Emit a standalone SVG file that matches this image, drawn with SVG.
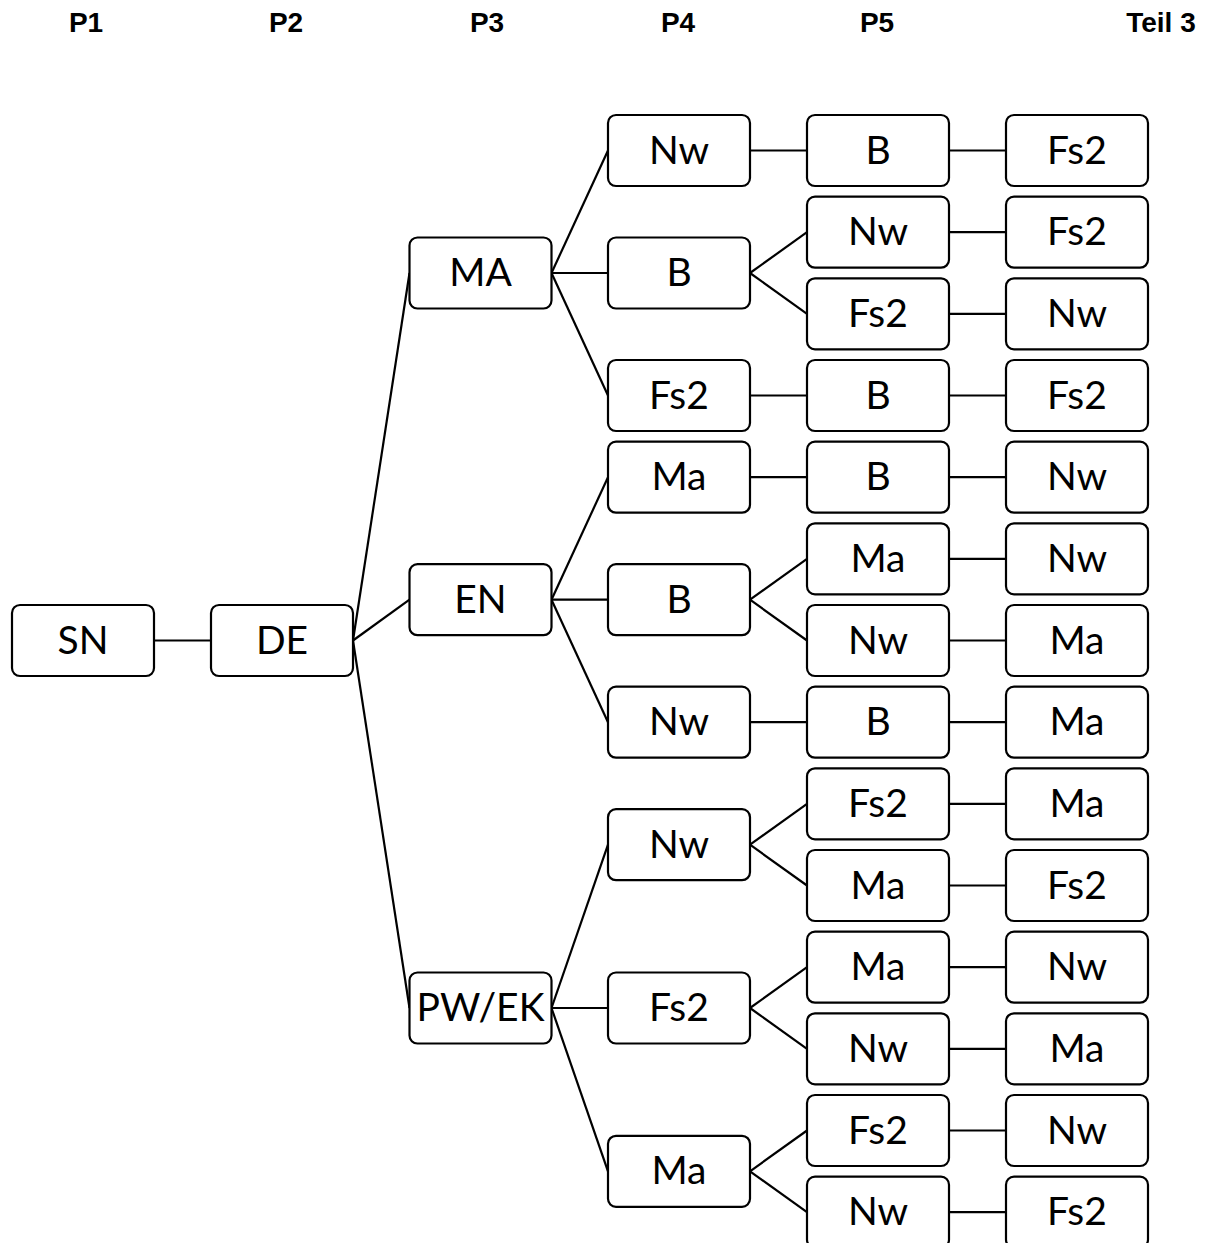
<svg xmlns="http://www.w3.org/2000/svg" width="1211" height="1243" viewBox="0 0 1211 1243">
<style>
.box{fill:#fff;stroke:#000;stroke-width:2.2}
.lbl{font-family:Lato,"Open Sans",sans-serif;font-size:39px;text-anchor:middle;fill:#000}
.hdr{font-family:"Liberation Sans",Arial,sans-serif;font-size:28px;font-weight:bold;text-anchor:middle;fill:#000}
.con line{stroke:#000;stroke-width:2.2}
</style>
<rect width="1211" height="1243" fill="#fff"/>
<g id="headers">
<text class="hdr" x="86" y="32">P1</text>
<text class="hdr" x="286" y="32">P2</text>
<text class="hdr" x="487" y="32">P3</text>
<text class="hdr" x="678" y="32">P4</text>
<text class="hdr" x="877" y="32">P5</text>
<text class="hdr" x="1161" y="32">Teil 3</text>
</g>
<g id="connectors" class="con">
<line x1="154" y1="640.5" x2="211" y2="640.5"/>
<line x1="353" y1="640.5" x2="409.5" y2="273"/>
<line x1="353" y1="640.5" x2="409.5" y2="599.7"/>
<line x1="353" y1="640.5" x2="409.5" y2="1008"/>
<line x1="551.5" y1="273" x2="608" y2="150.5"/>
<line x1="551.5" y1="273" x2="608" y2="273"/>
<line x1="551.5" y1="273" x2="608" y2="395.5"/>
<line x1="551.5" y1="599.7" x2="608" y2="477.2"/>
<line x1="551.5" y1="599.7" x2="608" y2="599.7"/>
<line x1="551.5" y1="599.7" x2="608" y2="722.2"/>
<line x1="551.5" y1="1008" x2="608" y2="844.7"/>
<line x1="551.5" y1="1008" x2="608" y2="1008"/>
<line x1="551.5" y1="1008" x2="608" y2="1171.3"/>
<line x1="750" y1="150.5" x2="807" y2="150.5"/>
<line x1="750" y1="273" x2="807" y2="232.2"/>
<line x1="750" y1="273" x2="807" y2="313.8"/>
<line x1="750" y1="395.5" x2="807" y2="395.5"/>
<line x1="750" y1="477.2" x2="807" y2="477.2"/>
<line x1="750" y1="599.7" x2="807" y2="558.8"/>
<line x1="750" y1="599.7" x2="807" y2="640.5"/>
<line x1="750" y1="722.2" x2="807" y2="722.2"/>
<line x1="750" y1="844.7" x2="807" y2="803.8"/>
<line x1="750" y1="844.7" x2="807" y2="885.5"/>
<line x1="750" y1="1008" x2="807" y2="967.2"/>
<line x1="750" y1="1008" x2="807" y2="1048.8"/>
<line x1="750" y1="1171.3" x2="807" y2="1130.5"/>
<line x1="750" y1="1171.3" x2="807" y2="1212.2"/>
<line x1="949" y1="150.5" x2="1006" y2="150.5"/>
<line x1="949" y1="232.2" x2="1006" y2="232.2"/>
<line x1="949" y1="313.8" x2="1006" y2="313.8"/>
<line x1="949" y1="395.5" x2="1006" y2="395.5"/>
<line x1="949" y1="477.2" x2="1006" y2="477.2"/>
<line x1="949" y1="558.8" x2="1006" y2="558.8"/>
<line x1="949" y1="640.5" x2="1006" y2="640.5"/>
<line x1="949" y1="722.2" x2="1006" y2="722.2"/>
<line x1="949" y1="803.8" x2="1006" y2="803.8"/>
<line x1="949" y1="885.5" x2="1006" y2="885.5"/>
<line x1="949" y1="967.2" x2="1006" y2="967.2"/>
<line x1="949" y1="1048.8" x2="1006" y2="1048.8"/>
<line x1="949" y1="1130.5" x2="1006" y2="1130.5"/>
<line x1="949" y1="1212.2" x2="1006" y2="1212.2"/>
</g>
<g id="n-sn"><rect class="box" x="12" y="605" width="142" height="71" rx="8"/><text class="lbl" x="83" y="653.5">SN</text></g>
<g id="n-de"><rect class="box" x="211" y="605" width="142" height="71" rx="8"/><text class="lbl" x="282" y="653.5">DE</text></g>
<g id="n-ma"><rect class="box" x="409.5" y="237.5" width="142" height="71" rx="8"/><text class="lbl" x="480.5" y="286">MA</text></g>
<g id="n-en"><rect class="box" x="409.5" y="564.2" width="142" height="71" rx="8"/><text class="lbl" x="480.5" y="612.7">EN</text></g>
<g id="n-pwek"><rect class="box" x="409.5" y="972.5" width="142" height="71" rx="8"/><text class="lbl" x="480.5" y="1021">PW/EK</text></g>
<g id="n-ma-nw"><rect class="box" x="608" y="115" width="142" height="71" rx="8"/><text class="lbl" x="679" y="163.5">Nw</text></g>
<g id="n-ma-b"><rect class="box" x="608" y="237.5" width="142" height="71" rx="8"/><text class="lbl" x="679" y="286">B</text></g>
<g id="n-ma-fs2"><rect class="box" x="608" y="360" width="142" height="71" rx="8"/><text class="lbl" x="679" y="408.5">Fs2</text></g>
<g id="n-en-ma"><rect class="box" x="608" y="441.7" width="142" height="71" rx="8"/><text class="lbl" x="679" y="490.2">Ma</text></g>
<g id="n-en-b"><rect class="box" x="608" y="564.2" width="142" height="71" rx="8"/><text class="lbl" x="679" y="612.7">B</text></g>
<g id="n-en-nw"><rect class="box" x="608" y="686.7" width="142" height="71" rx="8"/><text class="lbl" x="679" y="735.2">Nw</text></g>
<g id="n-pw-nw"><rect class="box" x="608" y="809.2" width="142" height="71" rx="8"/><text class="lbl" x="679" y="857.7">Nw</text></g>
<g id="n-pw-fs2"><rect class="box" x="608" y="972.5" width="142" height="71" rx="8"/><text class="lbl" x="679" y="1021">Fs2</text></g>
<g id="n-pw-ma"><rect class="box" x="608" y="1135.8" width="142" height="71" rx="8"/><text class="lbl" x="679" y="1184.3">Ma</text></g>
<g id="n-p5-0"><rect class="box" x="807" y="115" width="142" height="71" rx="8"/><text class="lbl" x="878" y="163.5">B</text></g>
<g id="n-p5-1"><rect class="box" x="807" y="196.7" width="142" height="71" rx="8"/><text class="lbl" x="878" y="245.2">Nw</text></g>
<g id="n-p5-2"><rect class="box" x="807" y="278.3" width="142" height="71" rx="8"/><text class="lbl" x="878" y="326.8">Fs2</text></g>
<g id="n-p5-3"><rect class="box" x="807" y="360" width="142" height="71" rx="8"/><text class="lbl" x="878" y="408.5">B</text></g>
<g id="n-p5-4"><rect class="box" x="807" y="441.7" width="142" height="71" rx="8"/><text class="lbl" x="878" y="490.2">B</text></g>
<g id="n-p5-5"><rect class="box" x="807" y="523.3" width="142" height="71" rx="8"/><text class="lbl" x="878" y="571.8">Ma</text></g>
<g id="n-p5-6"><rect class="box" x="807" y="605" width="142" height="71" rx="8"/><text class="lbl" x="878" y="653.5">Nw</text></g>
<g id="n-p5-7"><rect class="box" x="807" y="686.7" width="142" height="71" rx="8"/><text class="lbl" x="878" y="735.2">B</text></g>
<g id="n-p5-8"><rect class="box" x="807" y="768.3" width="142" height="71" rx="8"/><text class="lbl" x="878" y="816.8">Fs2</text></g>
<g id="n-p5-9"><rect class="box" x="807" y="850" width="142" height="71" rx="8"/><text class="lbl" x="878" y="898.5">Ma</text></g>
<g id="n-p5-10"><rect class="box" x="807" y="931.7" width="142" height="71" rx="8"/><text class="lbl" x="878" y="980.2">Ma</text></g>
<g id="n-p5-11"><rect class="box" x="807" y="1013.3" width="142" height="71" rx="8"/><text class="lbl" x="878" y="1061.8">Nw</text></g>
<g id="n-p5-12"><rect class="box" x="807" y="1095" width="142" height="71" rx="8"/><text class="lbl" x="878" y="1143.5">Fs2</text></g>
<g id="n-p5-13"><rect class="box" x="807" y="1176.7" width="142" height="71" rx="8"/><text class="lbl" x="878" y="1225.2">Nw</text></g>
<g id="n-t3-0"><rect class="box" x="1006" y="115" width="142" height="71" rx="8"/><text class="lbl" x="1077" y="163.5">Fs2</text></g>
<g id="n-t3-1"><rect class="box" x="1006" y="196.7" width="142" height="71" rx="8"/><text class="lbl" x="1077" y="245.2">Fs2</text></g>
<g id="n-t3-2"><rect class="box" x="1006" y="278.3" width="142" height="71" rx="8"/><text class="lbl" x="1077" y="326.8">Nw</text></g>
<g id="n-t3-3"><rect class="box" x="1006" y="360" width="142" height="71" rx="8"/><text class="lbl" x="1077" y="408.5">Fs2</text></g>
<g id="n-t3-4"><rect class="box" x="1006" y="441.7" width="142" height="71" rx="8"/><text class="lbl" x="1077" y="490.2">Nw</text></g>
<g id="n-t3-5"><rect class="box" x="1006" y="523.3" width="142" height="71" rx="8"/><text class="lbl" x="1077" y="571.8">Nw</text></g>
<g id="n-t3-6"><rect class="box" x="1006" y="605" width="142" height="71" rx="8"/><text class="lbl" x="1077" y="653.5">Ma</text></g>
<g id="n-t3-7"><rect class="box" x="1006" y="686.7" width="142" height="71" rx="8"/><text class="lbl" x="1077" y="735.2">Ma</text></g>
<g id="n-t3-8"><rect class="box" x="1006" y="768.3" width="142" height="71" rx="8"/><text class="lbl" x="1077" y="816.8">Ma</text></g>
<g id="n-t3-9"><rect class="box" x="1006" y="850" width="142" height="71" rx="8"/><text class="lbl" x="1077" y="898.5">Fs2</text></g>
<g id="n-t3-10"><rect class="box" x="1006" y="931.7" width="142" height="71" rx="8"/><text class="lbl" x="1077" y="980.2">Nw</text></g>
<g id="n-t3-11"><rect class="box" x="1006" y="1013.3" width="142" height="71" rx="8"/><text class="lbl" x="1077" y="1061.8">Ma</text></g>
<g id="n-t3-12"><rect class="box" x="1006" y="1095" width="142" height="71" rx="8"/><text class="lbl" x="1077" y="1143.5">Nw</text></g>
<g id="n-t3-13"><rect class="box" x="1006" y="1176.7" width="142" height="71" rx="8"/><text class="lbl" x="1077" y="1225.2">Fs2</text></g>
</svg>
